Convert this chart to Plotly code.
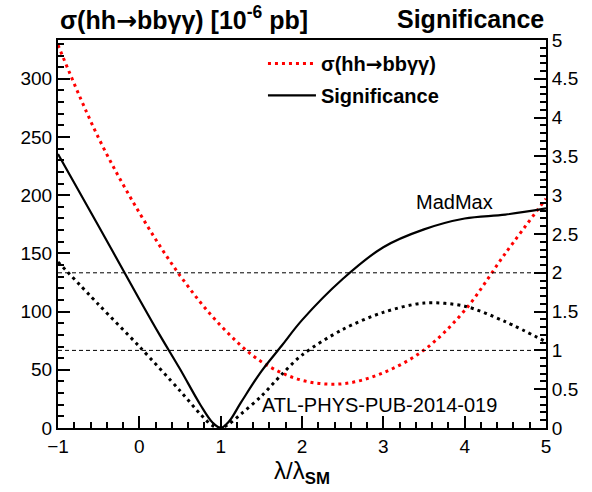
import plotly.graph_objects as go

# ---- data ----
lam_xsec = [-1, -0.5, 0, 0.5, 1, 1.5, 2, 2.5, 3, 3.5, 4, 4.5, 5]
xsec = [329, 249, 185, 131, 88, 57, 41, 38, 47.5, 67, 101, 150, 197]

lam_sig = [-1, -0.5, 0, 0.25, 0.5, 0.75, 0.9, 1.0, 1.1, 1.25, 1.5, 1.75, 2.0, 2.5, 3.0, 3.5, 4.0, 4.5, 5.0]
sig_madmax = [3.53, 2.6, 1.66, 1.2, 0.76, 0.3, 0.07, 0.0, 0.08, 0.33, 0.73, 1.06, 1.39, 1.92, 2.33, 2.56, 2.7, 2.75, 2.83]

lam_sig2 = [-1, -0.5, 0, 0.5, 0.75, 0.9, 1.0, 1.1, 1.25, 1.5, 1.75, 2.0, 2.5, 3.0, 3.5, 4.0, 4.5, 5.0]
sig_atlas = [2.14, 1.59, 1.05, 0.48, 0.18, 0.03, 0.0, 0.05, 0.18, 0.41, 0.69, 0.94, 1.27, 1.49, 1.61, 1.57, 1.37, 1.11]

sig_levels = [1, 2]
x_range = [-1, 5]

FONT = "Liberation Sans, Arial, Helvetica, sans-serif"
ARROW = '<span style="font-family:DejaVu Sans">→</span>'

fig = go.Figure()

fig.add_trace(go.Scatter(
    x=lam_xsec, y=xsec, mode="lines", name=f"<b>σ(hh{ARROW}bbγγ)</b>",
    line=dict(color="#ff0000", width=3, dash="3px,4px", shape="spline", smoothing=1.0),
    legendgroup="a", yaxis="y"))
fig.add_trace(go.Scatter(
    x=lam_sig, y=sig_madmax, mode="lines", name="<b>Significance</b>",
    line=dict(color="black", width=2.2, shape="spline", smoothing=1.0),
    legendgroup="b", yaxis="y2"))
fig.add_trace(go.Scatter(
    x=lam_sig2, y=sig_atlas, mode="lines", showlegend=False,
    line=dict(color="black", width=3, dash="3px,4px", shape="spline", smoothing=0.9),
    yaxis="y2"))
for lv in sig_levels:
    fig.add_trace(go.Scatter(
        x=x_range, y=[lv, lv], mode="lines", showlegend=False,
        line=dict(color="black", width=1, dash="4px,3px"), yaxis="y2"))

axis_common = dict(
    showgrid=False, zeroline=False, showline=True, linecolor="black", linewidth=2,
    ticks="inside", ticklen=12, tickwidth=1.5, tickcolor="black",
    tickfont=dict(family=FONT, size=19, color="black"),
)

fig.update_layout(
    width=592, height=492,
    margin=dict(l=58, r=46, t=40, b=61),
    paper_bgcolor="white", plot_bgcolor="white",
    font=dict(family=FONT, color="black"),
    xaxis=dict(range=x_range, dtick=1, tick0=0, mirror=True,
               minor=dict(dtick=0.2, ticklen=6, ticks="inside", tickcolor="black", tickwidth=1.5),
               title=dict(text="λ/λ<sub><b>SM</b></sub>", font=dict(family=FONT, size=24), standoff=6),
               **axis_common),
    yaxis=dict(range=[0, 333.33], dtick=50, tick0=0,
               minor=dict(dtick=10, ticklen=6, ticks="inside", tickcolor="black", tickwidth=1.5),
               **axis_common),
    yaxis2=dict(range=[0, 5], dtick=0.5, tick0=0, overlaying="y", side="right",
                minor=dict(dtick=0.1, ticklen=6, ticks="inside", tickcolor="black", tickwidth=1.5),
                **axis_common),
    legend=dict(x=0.42, y=0.99, xanchor="left", yanchor="top", bgcolor="rgba(0,0,0,0)",
                font=dict(family=FONT, size=20, color="black"), tracegroupgap=3, itemwidth=48),
    showlegend=True,
)

fig.add_annotation(text=f"<b>σ(hh{ARROW}bbγγ) [10<sup>-6</sup> pb]</b>", xref="paper", yref="paper",
                   x=0, y=1.055, xanchor="left", yanchor="middle", showarrow=False,
                   font=dict(family=FONT, size=25, color="black"))
fig.add_annotation(text="<b>Significance</b>", xref="paper", yref="paper",
                   x=1, y=1.055, xanchor="right", yanchor="middle", showarrow=False,
                   font=dict(family=FONT, size=25, color="black"))
fig.add_annotation(text="MadMax", xref="x", yref="y", x=3.383, y=194, xanchor="left",
                   yanchor="middle", showarrow=False, font=dict(family=FONT, size=20, color="black"))
fig.add_annotation(text="ATL-PHYS-PUB-2014-019", xref="x", yref="y", x=1.488, y=20,
                   xanchor="left", yanchor="middle", showarrow=False,
                   font=dict(family=FONT, size=20, color="black"))

fig.write_html("out.html")
